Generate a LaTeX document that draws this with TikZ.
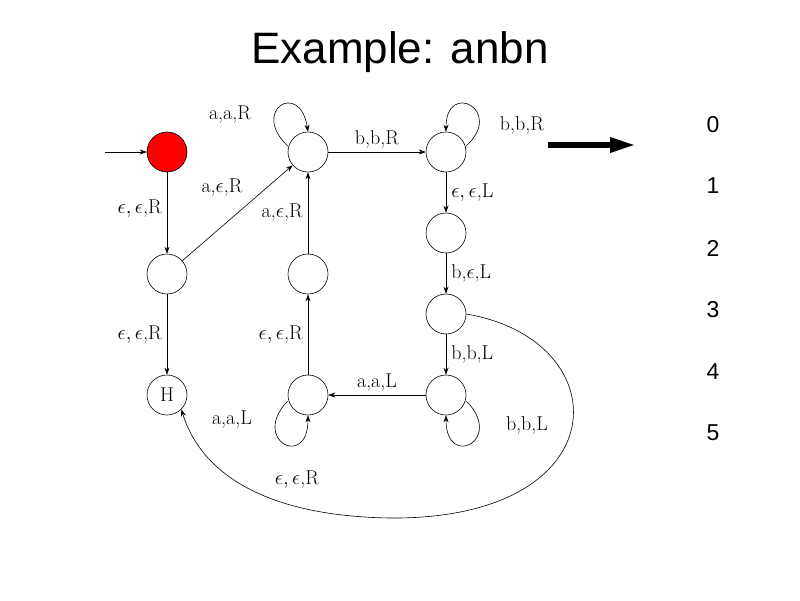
\documentclass[tikz,border=0pt]{standalone}
\usepackage{fontspec}
\newfontfamily\arial{Liberation Sans}
\usetikzlibrary{arrows.meta}
\begin{document}
\begin{tikzpicture}[x=1pt,y=-1pt,
  st/.style={circle,draw,line width=0.6pt,minimum size=40pt,inner sep=0pt},
  lb/.style={font=\fontsize{20}{20}\selectfont,inner sep=1pt},
  num/.style={font=\arial\fontsize{23}{23}\selectfont},
  ed/.style={-{Stealth[length=7pt,width=5pt]},line width=0.6pt}]
\useasboundingbox (0,0) rectangle (800,600);
\node[font=\arial\fontsize{44}{44}\selectfont] (title) at (400,52) {Example: anbn};
\node[st,fill=red] (s) at (167,152) {};
\node[st] (a) at (308,152) {};
\node[st] (b) at (446,152) {};
\node[st] (c) at (446,233) {};
\node[st] (d) at (446,314) {};
\node[st] (e) at (446,395) {};
\node[st] (f) at (308,395) {};
\node[st] (g) at (308,274) {};
\node[st] (s1) at (167,274) {};
\node[st,font=\fontsize{20}{20}\selectfont] (h) at (167,395) {H};
\coordinate (in) at (105,152);
\draw[ed] (in) -- (s);
\draw[ed] (s) -- node[lb,left=4pt,pos=0.45]{$\epsilon,\epsilon$,R} (s1);
\draw[ed] (s1) -- (a);
\node[lb] (l1) at (222,188) {a,$\epsilon$,R};
\draw[ed] (a.west |- 0,146) .. controls (250,110) and (300,80) .. (a.north);
\node[lb] (l3) at (230,115) {a,a,R};
\draw[ed] (a) -- node[lb,above=2pt]{b,b,R} (b);
\draw[ed] (b.east |- 0,146) .. controls (505,110) and (446,80) .. (b.north);
\node[lb] (l4) at (522,125) {b,b,R};
\draw[ed] (b) -- node[lb,right=4pt]{$\epsilon,\epsilon$,L} (c);
\draw[ed] (c) -- node[lb,right=4pt]{b,$\epsilon$,L} (d);
\draw[ed] (d) -- node[lb,right=4pt]{b,b,L} (e);
\draw[ed] (e.east |- 0,401) .. controls (505,440) and (446,470) .. (e.south);
\node[lb] (l5) at (527,425) {b,b,L};
\draw[ed] (e) -- node[lb,above=2pt]{a,a,L} (f);
\draw[ed] (f.west |- 0,401) .. controls (250,440) and (308,470) .. (f.south);
\node[lb] (l6) at (232,420) {a,a,L};
\draw[ed] (f) -- node[lb,left=4pt]{$\epsilon,\epsilon$,R} (g);
\draw[ed] (g) -- node[lb,left=4pt]{a,$\epsilon$,R} (a);
\draw[ed] (s1) -- node[lb,left=4pt]{$\epsilon,\epsilon$,R} (h);
\draw[ed] (d.east) .. controls (620,340) and (620,520) .. (390,518)
  .. controls (260,516) and (200,470) .. (h.south east);
\node[lb] (l2) at (297,480) {$\epsilon,\epsilon$,R};
\coordinate (ba) at (548,145); \coordinate (bb) at (636,145);
\draw[line width=6pt,-{Triangle[length=26pt,width=14pt]}] (ba) -- (bb);
\node[num] (n0) at (713,125) {0};
\node[num] (n1) at (713,186) {1};
\node[num] (n2) at (713,248) {2};
\node[num] (n3) at (713,310) {3};
\node[num] (n4) at (713,372) {4};
\node[num] (n5) at (713,433) {5};
\end{tikzpicture}
\end{document}
